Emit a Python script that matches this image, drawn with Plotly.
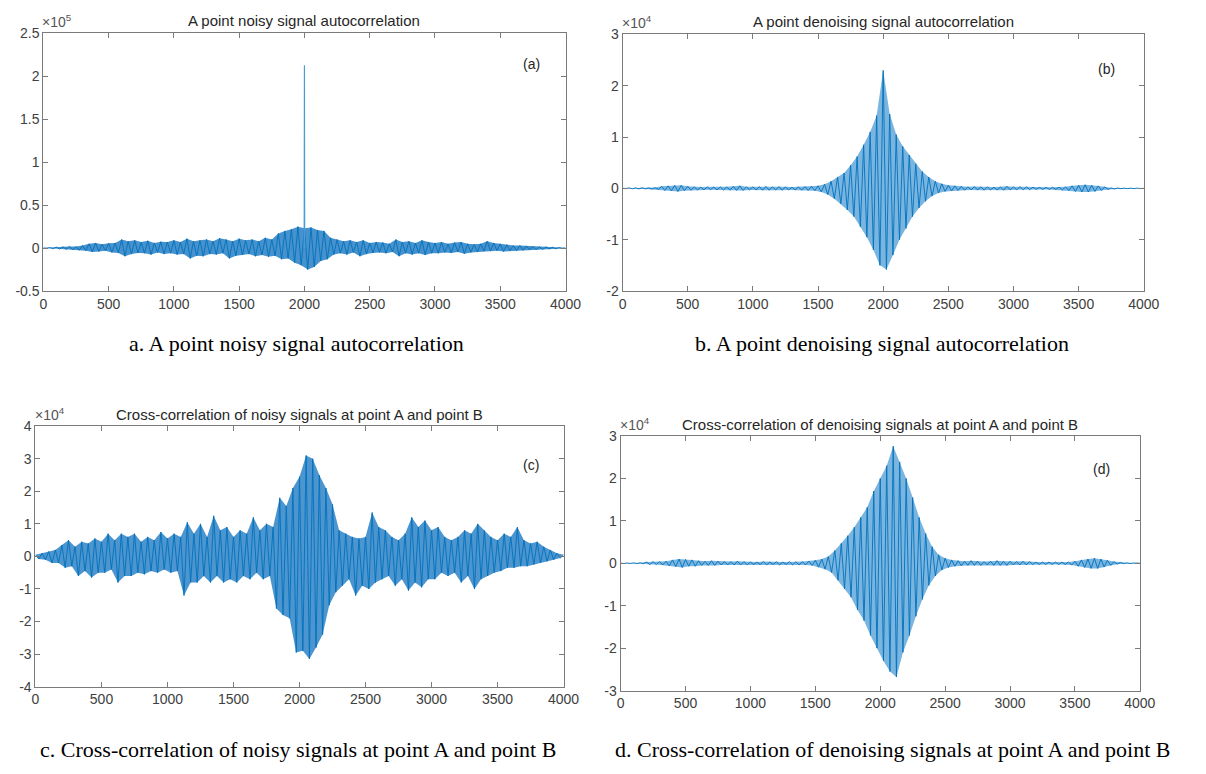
import plotly.graph_objects as go

W, H = 1206, 774

# ---------------- data ----------------
# lag positions of local maxima / minima of each correlation sequence
peak_lags = list(range(0, 4001, 50))
trough_lags = list(range(25, 4000, 50))
x_ticks = [0, 500, 1000, 1500, 2000, 2500, 3000, 3500, 4000]

# (a) noisy autocorrelation, units of 1e5
a_peaks = [0.003, 0.005, 0.012, 0.015, 0.02, 0.018, 0.03, 0.05, 0.06, 0.045,
           0.055, 0.06, 0.1, 0.08, 0.09, 0.07, 0.085, 0.06, 0.075, 0.07,
           0.09, 0.07, 0.11, 0.08, 0.09, 0.1, 0.08, 0.115, 0.1, 0.08,
           0.11, 0.09, 0.1, 0.08, 0.12, 0.1, 0.17, 0.2, 0.22, 0.25,
           0.23, 0.24, 0.21, 0.2, 0.12, 0.1, 0.08, 0.09, 0.07, 0.09,
           0.06, 0.07, 0.065, 0.05, 0.1, 0.07, 0.08, 0.06, 0.09, 0.07,
           0.06, 0.07, 0.05, 0.065, 0.07, 0.05, 0.045, 0.05, 0.08, 0.06,
           0.05, 0.04, 0.03, 0.03, 0.025, 0.02, 0.015, 0.015, 0.01, 0.006,
           0.003]
a_troughs = [-0.004, -0.008, -0.012, -0.015, -0.02, -0.025, -0.03, -0.045, -0.04, -0.03,
             -0.05, -0.057, -0.095, -0.07, -0.057, -0.06, -0.076, -0.05, -0.07, -0.06,
             -0.076, -0.07, -0.12, -0.09, -0.095, -0.07, -0.076, -0.06, -0.12, -0.09,
             -0.08, -0.07, -0.095, -0.08, -0.1, -0.09, -0.13, -0.12, -0.17, -0.2,
             -0.25, -0.22, -0.15, -0.13, -0.076, -0.06, -0.076, -0.05, -0.095, -0.07,
             -0.057, -0.05, -0.06, -0.045, -0.095, -0.06, -0.076, -0.06, -0.08, -0.06,
             -0.06, -0.05, -0.057, -0.045, -0.065, -0.05, -0.045, -0.035, -0.035, -0.03,
             -0.04, -0.03, -0.03, -0.025, -0.02, -0.02, -0.015, -0.01, -0.008, -0.004]
a_spike_lags = [1998, 2000, 2002]
a_spike_vals = [0.0, 2.13, 0.0]

# (b) denoised autocorrelation, units of 1e4
b_peaks = [0.005, 0.01, 0.01, 0.012, 0.01, 0.015, 0.04, 0.05, 0.06, 0.06,
           0.04, 0.03, 0.025, 0.03, 0.025, 0.03, 0.03, 0.04, 0.05, 0.03,
           0.03, 0.035, 0.04, 0.03, 0.035, 0.03, 0.025, 0.03, 0.035, 0.04,
           0.05, 0.08, 0.14, 0.22, 0.3, 0.45, 0.62, 0.85, 1.1, 1.42,
           2.3, 1.45, 1.05, 0.82, 0.65, 0.48, 0.33, 0.22, 0.14, 0.09,
           0.06, 0.05, 0.04, 0.03, 0.035, 0.03, 0.03, 0.025, 0.03, 0.04,
           0.03, 0.035, 0.03, 0.025, 0.02, 0.02, 0.02, 0.025, 0.03, 0.05,
           0.06, 0.07, 0.06, 0.05, 0.03, 0.01, 0.008, 0.005, 0.005, 0.005,
           0.003]
b_troughs = [-0.005, -0.008, -0.01, -0.01, -0.012, -0.02, -0.04, -0.05, -0.06, -0.045,
             -0.035, -0.03, -0.03, -0.025, -0.03, -0.03, -0.035, -0.04, -0.04, -0.03,
             -0.03, -0.035, -0.035, -0.03, -0.035, -0.03, -0.03, -0.035, -0.04, -0.045,
             -0.07, -0.12, -0.2, -0.3, -0.42, -0.55, -0.75, -0.95, -1.2, -1.5,
             -1.58, -1.3, -1.0, -0.78, -0.55, -0.38, -0.25, -0.15, -0.09, -0.06,
             -0.05, -0.04, -0.035, -0.03, -0.03, -0.035, -0.03, -0.03, -0.035, -0.03,
             -0.03, -0.03, -0.025, -0.02, -0.02, -0.02, -0.02, -0.03, -0.04, -0.06,
             -0.07, -0.07, -0.06, -0.04, -0.02, -0.01, -0.006, -0.005, -0.005, -0.004]

# (c) noisy cross-correlation, units of 1e4
c_peaks = [0.05, 0.1, 0.15, 0.2, 0.35, 0.5, 0.3, 0.45, 0.4, 0.55,
           0.45, 0.7, 0.5, 0.7, 0.6, 0.7, 0.45, 0.6, 0.5, 0.75,
           0.55, 0.7, 0.6, 1.05, 0.7, 1.0, 0.6, 1.25, 0.8, 0.9,
           0.6, 0.8, 0.7, 1.2, 0.8, 1.0, 0.9, 1.8, 1.55, 2.1,
           2.45, 3.1, 3.0, 2.5, 2.1, 1.6, 0.8, 0.7, 0.6, 0.55,
           0.6, 1.35, 0.9, 0.8, 0.6, 0.5, 0.7, 1.2, 0.9, 1.1,
           0.8, 0.9, 0.6, 0.5, 0.6, 0.8, 0.7, 1.0, 0.8, 0.6,
           0.5, 0.7, 0.6, 0.9, 0.5, 0.4, 0.45, 0.3, 0.2, 0.1,
           0.05]
c_troughs = [-0.08, -0.1, -0.2, -0.2, -0.35, -0.3, -0.6, -0.45, -0.65, -0.5,
             -0.5, -0.4, -0.8, -0.6, -0.6, -0.5, -0.55, -0.45, -0.5, -0.4,
             -0.5, -0.45, -1.2, -0.8, -0.8, -0.6, -0.8, -0.6, -0.8, -0.7,
             -0.8, -0.6, -0.7, -0.5, -0.7, -0.6, -1.6, -1.8, -1.9, -2.95,
             -2.9, -3.15, -2.8, -2.4, -1.5, -1.1, -0.9, -0.7, -1.2, -0.9,
             -1.0, -0.8, -0.7, -0.6, -0.9, -0.7, -1.05, -0.8, -0.95, -0.7,
             -0.7, -0.5, -0.6, -0.5, -0.8, -0.6, -1.0, -0.7, -0.6, -0.5,
             -0.45, -0.35, -0.35, -0.3, -0.3, -0.25, -0.2, -0.15, -0.1, -0.05]

# (d) denoised cross-correlation, units of 1e4
d_peaks = [0.005, 0.005, 0.008, 0.01, 0.03, 0.04, 0.04, 0.05, 0.08, 0.1,
           0.09, 0.08, 0.06, 0.05, 0.06, 0.05, 0.04, 0.04, 0.05, 0.04,
           0.03, 0.03, 0.04, 0.03, 0.035, 0.03, 0.04, 0.035, 0.04, 0.05,
           0.07, 0.1, 0.16, 0.3, 0.47, 0.65, 0.85, 1.08, 1.32, 1.7,
           2.0, 2.3, 2.76, 2.39, 2.0, 1.55, 1.08, 0.7, 0.39, 0.2,
           0.12, 0.08, 0.06, 0.05, 0.06, 0.05, 0.04, 0.05, 0.06, 0.05,
           0.05, 0.04, 0.05, 0.04, 0.03, 0.03, 0.03, 0.03, 0.03, 0.03,
           0.05, 0.08, 0.1, 0.12, 0.1, 0.07, 0.04, 0.02, 0.01, 0.005,
           0.003]
d_troughs = [-0.005, -0.005, -0.008, -0.01, -0.03, -0.03, -0.04, -0.06, -0.08, -0.1,
             -0.07, -0.07, -0.05, -0.05, -0.05, -0.04, -0.04, -0.04, -0.04, -0.035,
             -0.03, -0.03, -0.035, -0.03, -0.035, -0.03, -0.035, -0.04, -0.04, -0.05,
             -0.09, -0.14, -0.22, -0.4, -0.6, -0.8, -1.1, -1.35, -1.7, -2.0,
             -2.3, -2.55, -2.68, -2.1, -1.7, -1.25, -0.85, -0.52, -0.3, -0.16,
             -0.1, -0.07, -0.06, -0.05, -0.05, -0.05, -0.04, -0.05, -0.05, -0.05,
             -0.04, -0.04, -0.04, -0.03, -0.03, -0.03, -0.03, -0.03, -0.03, -0.04,
             -0.07, -0.1, -0.12, -0.12, -0.09, -0.05, -0.02, -0.01, -0.005, -0.004]

a_yticks = [-0.5, 0, 0.5, 1, 1.5, 2, 2.5]
b_yticks = [-2, -1, 0, 1, 2, 3]
c_yticks = [-4, -3, -2, -1, 0, 1, 2, 3, 4]
d_yticks = [-3, -2, -1, 0, 1, 2, 3]

titles = ["A point noisy signal autocorrelation",
          "A point denoising signal autocorrelation",
          "Cross-correlation of noisy signals at point A and point B",
          "Cross-correlation of denoising signals at point A and point B"]
captions = ["a. A point noisy signal autocorrelation",
            "b. A point denoising signal autocorrelation",
            "c. Cross-correlation of noisy signals at point A and point B",
            "d. Cross-correlation of denoising signals at point A and point B"]
labels = ["(a)", "(b)", "(c)", "(d)"]
exponents = ["5", "4", "4", "4"]


def interleave(peaks, troughs):
    xs, ys = [], []
    for i in range(len(troughs)):
        xs += [peak_lags[i], trough_lags[i]]
        ys += [peaks[i], troughs[i]]
    xs.append(peak_lags[-1])
    ys.append(peaks[-1])
    return xs, ys


def band(peaks, troughs):
    xs = peak_lags + trough_lags[::-1]
    ys = list(peaks) + list(troughs)[::-1]
    return xs + [xs[0]], ys + [ys[0]]


def fx(p):
    return p / W


def fy(p):
    return 1 - p / H


# plot boxes in reference pixels: left, right, top, bottom
boxes = [(40, 571, 26, 289), (629, 1159, 27, 289),
         (32, 569, 427, 693), (627, 1155, 437, 697)]
label_px = [(536, 57), (1121, 62), (536, 467), (1116, 471)]
title_y = [13, 14, 415, 425]
caption_px = [(297, 343), (893, 343), (299, 757), (903, 757)]

series = [(a_peaks, a_troughs), (b_peaks, b_troughs),
          (c_peaks, c_troughs), (d_peaks, d_troughs)]
yticks = [a_yticks, b_yticks, c_yticks, d_yticks]
band_fill = ["rgba(0,104,185,0.72)", "rgba(40,135,205,0.62)",
             "rgba(0,104,185,0.70)", "rgba(40,135,205,0.62)"]

LINE = "#0072BD"
AX = "#7a7a7a"
TXT = "#404040"
SANS = "Liberation Sans, Arial, sans-serif"
SERIF = "Liberation Serif, Times New Roman, serif"

fig = go.Figure()
layout = dict(width=W, height=H, margin=dict(l=0, r=0, t=0, b=0),
              paper_bgcolor="white", plot_bgcolor="white", showlegend=False)
annotations = []

for i in range(4):
    n = "" if i == 0 else str(i + 1)
    bx, by = band(*series[i])
    fig.add_trace(go.Scatter(x=bx, y=by, mode="lines", xaxis="x" + n, yaxis="y" + n,
                             line=dict(width=0), fill="toself",
                             fillcolor=band_fill[i], hoverinfo="skip"))
    xs, ys = interleave(*series[i])
    fig.add_trace(go.Scatter(x=xs, y=ys, mode="lines", xaxis="x" + n, yaxis="y" + n,
                             line=dict(color=LINE, width=0.9), hoverinfo="skip"))
    if i == 0:
        fig.add_trace(go.Scatter(x=a_spike_lags, y=a_spike_vals, mode="lines",
                                 xaxis="x", yaxis="y",
                                 line=dict(color="#4a9ad6", width=1.2),
                                 hoverinfo="skip"))
    l, r, t, b = boxes[i]
    yt = yticks[i]
    common = dict(showline=True, linecolor=AX, linewidth=1, mirror="ticks",
                  ticks="inside", ticklen=5, tickcolor=AX, showgrid=False,
                  zeroline=False, tickfont=dict(family=SANS, size=14, color=TXT))
    layout["xaxis" + n] = dict(domain=[fx(l), fx(r)], anchor="y" + n, range=[0, 4000],
                               tickvals=x_ticks, ticktext=[str(v) for v in x_ticks],
                               **common)
    layout["yaxis" + n] = dict(domain=[fy(b), fy(t)], anchor="x" + n,
                               range=[yt[0], yt[-1]], tickvals=yt,
                               ticktext=[("%g" % v) for v in yt], **common)
    # title
    annotations.append(dict(x=fx((l + r) / 2), y=fy(title_y[i]), xref="paper", yref="paper",
                            text=titles[i], showarrow=False, xanchor="center",
                            yanchor="middle", font=dict(family=SANS, size=15, color="#262626")))
    # exponent
    annotations.append(dict(x=fx(l - 3), y=fy(t - 1), xref="paper", yref="paper",
                            text="\u00d710<sup>" + exponents[i] + "</sup>", showarrow=False,
                            xanchor="left", yanchor="bottom",
                            font=dict(family=SANS, size=14, color="#555555")))
    # panel label
    annotations.append(dict(x=fx(label_px[i][0]), y=fy(label_px[i][1]), xref="paper",
                            yref="paper", text=labels[i], showarrow=False,
                            xanchor="center", yanchor="middle",
                            font=dict(family=SANS, size=14, color="#262626")))
    # caption
    annotations.append(dict(x=fx(caption_px[i][0]), y=fy(caption_px[i][1]), xref="paper",
                            yref="paper", text=captions[i], showarrow=False,
                            xanchor="center", yanchor="middle",
                            font=dict(family=SERIF, size=22, color="black")))

layout["annotations"] = annotations
fig.update_layout(**layout)
fig.write_html("out.html", config={"displayModeBar": False},
               post_script="document.body.style.margin='0';"
                           "document.body.style.overflow='hidden';")
